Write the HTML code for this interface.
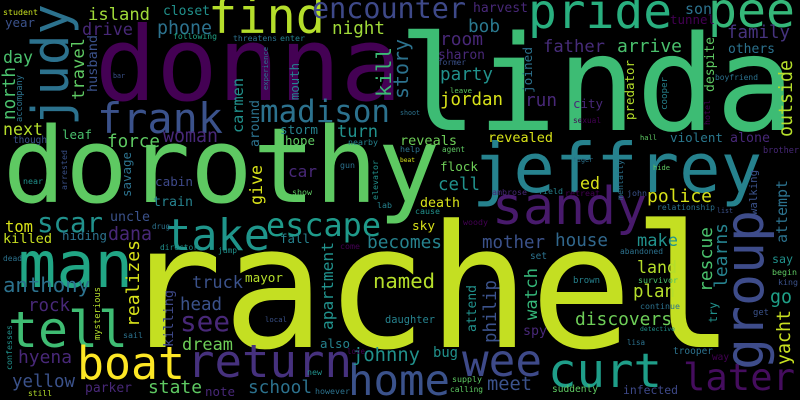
<!DOCTYPE html>
<html><head><meta charset="utf-8">
<style>
html,body{margin:0;padding:0;background:#000;width:800px;height:400px;overflow:hidden}
svg{display:block}
text{font-family:"DejaVu Sans Mono","Liberation Mono",monospace}
</style></head>
<body>
<svg id="cloud" width="800" height="400" viewBox="0 0 800 400" xmlns="http://www.w3.org/2000/svg">
<rect x="0" y="0" width="800" height="400" fill="#000"/>
</svg>
<script>
// word, x, baseline y (or bottom for vertical), ink length, color, vertical flag
const words = [
["rachel",120,347,615,"#c4df22",0],
["donna",95,100,307,"#440154",0],
["linda",398,130,397,"#3dbc74",0],
["dorothy",3,202,437,"#5ec962",0],
["jeffrey",472,192,290,"#26828e",0],
["man",18,287,115,"#21a685",0],
["tell",8,347,120,"#3fbc73",0],
["take",165,250,105,"#1f958b",0],
["escape",266,236,115,"#1f9a8a",0],
["scar",37,232,66,"#21918c",0],
["frank",97,133,126,"#3b528b",0],
["find",208,33,117,"#b5de2b",0],
["judy",68,126,122,"#2c728e",1],
["encounter",312,18,154,"#3e4989",0],
["pride",528,28,144,"#29af7f",0],
["pee",708,27,87,"#35b779",0],
["sandy",492,224,155,"#481a6c",0],
["boat",77,379,108,"#fde725",0],
["return",187,377,165,"#46317e",0],
["home",348,395,102,"#3b528b",0],
["wee",462,376,80,"#3e4a89",0],
["curt",548,387,114,"#1f9e89",0],
["later",683,390,112,"#450d5e",0],
["group",763,370,160,"#3e4c8a",1],
["madison",260,122,130,"#2c728e",0],
["story",408,99,60,"#2c728e",1],
["island",88,20,62,"#a0da39",0],
["closet",163,15,47,"#21918c",0],
["student",3,15,35,"#c8e020",0],
["year",5,27,30,"#3b528b",0],
["drive",82,35,51,"#482878",0],
["phone",157,34,55,"#2c728e",0],
["night",332,34,53,"#a0da39",0],
["following",173,39,44,"#20a486",0],
["threatens",233,41,44,"#2c728e",0],
["enter",280,41,25,"#26828e",0],
["husband",97,92,57,"#3b528b",1],
["travel",84,100,62,"#5ec962",1],
["day",3,63,30,"#4ac16d",0],
["north",15,120,53,"#4ac16d",1],
["accompany",22,122,47,"#2c728e",1],
["next",3,135,40,"#b5de2b",0],
["though",13,143,34,"#3b528b",0],
["leaf",62,139,30,"#4ac16d",0],
["force",107,147,53,"#5ec962",0],
["woman",163,142,55,"#482878",0],
["carmen",243,133,55,"#21918c",1],
["around",259,147,47,"#2c728e",1],
["mouth",299,100,37,"#26828e",1],
["experience",268,90,43,"#2c728e",1],
["bar",113,78,12,"#3b528b",0],
["storm",280,134,38,"#26828e",0],
["turn",337,137,41,"#21918c",0],
["hope",285,145,30,"#5ec962",0],
["kill",391,97,50,"#3bbb75",1],
["savage",131,197,45,"#2c728e",1],
["arrested",67,190,40,"#3b528b",1],
["near",23,184,20,"#21918c",0],
["cabin",155,186,38,"#3e4989",0],
["car",288,177,29,"#482878",0],
["give",262,205,40,"#d8e219",1],
["nearby",348,145,30,"#26828e",0],
["gun",340,168,15,"#2c728e",0],
["elevator",378,200,40,"#21918c",1],
["show",292,195,20,"#5ec962",0],
["harvest",473,12,55,"#482878",0],
["son",685,14,27,"#2c728e",0],
["tunnel",670,24,45,"#440154",0],
["bob",468,32,32,"#2a788e",0],
["family",727,38,63,"#46337e",0],
["room",440,45,43,"#482878",0],
["father",543,52,62,"#472c7a",0],
["arrive",617,52,65,"#4ac16d",0],
["others",728,53,47,"#2c728e",0],
["sharon",438,59,47,"#482878",0],
["former",438,65,28,"#3b528b",0],
["joined",532,93,46,"#2c728e",1],
["despite",714,92,55,"#5ec962",1],
["outside",792,137,77,"#b5de2b",1],
["party",440,80,53,"#21918c",0],
["predator",634,120,60,"#b5de2b",1],
["boyfriend",715,80,43,"#2c728e",0],
["leave",450,93,22,"#5ec962",0],
["cooper",667,110,33,"#26828e",1],
["jordan",440,105,63,"#d8e219",0],
["run",525,106,32,"#482878",0],
["city",573,108,30,"#482878",0],
["shoot",400,115,20,"#2c728e",0],
["sexual",573,123,28,"#440154",0],
["hotel",710,125,25,"#440154",1],
["reveals",400,145,57,"#6ece58",0],
["revealed",488,142,65,"#d8e219",0],
["violent",670,142,53,"#2a788e",0],
["alone",730,142,40,"#482878",0],
["hall",640,140,17,"#5ec962",0],
["help",400,152,20,"#2c728e",0],
["agent",442,152,23,"#5ec962",0],
["beat",400,162,15,"#d8e219",0],
["tiger",573,162,20,"#2c728e",0],
["hide",653,170,17,"#5ec962",0],
["brother",763,153,36,"#482878",0],
["flock",440,171,38,"#6ece58",0],
["mentally",623,200,40,"#2c728e",1],
["cell",438,190,42,"#21918c",0],
["ed",580,189,20,"#d8e219",0],
["walking",757,215,45,"#3b528b",1],
["attempt",787,243,63,"#2c728e",1],
["ambrose",492,195,35,"#482878",0],
["field",538,194,25,"#26828e",0],
["retreat",565,196,35,"#440154",0],
["john",627,196,20,"#3b528b",0],
["police",647,202,65,"#d8e219",0],
["death",420,207,40,"#d8e219",0],
["relationship",657,210,58,"#2c728e",0],
["list",717,213,16,"#3b528b",0],
["cause",415,214,25,"#21918c",0],
["woody",463,225,25,"#440154",0],
["sky",412,230,23,"#d8e219",0],
["becomes",367,248,75,"#26828e",0],
["mother",482,248,63,"#3b528b",0],
["house",555,246,53,"#31688e",0],
["make",637,246,41,"#21918c",0],
["rescue",712,292,65,"#4ac16d",1],
["learns",727,288,65,"#26828e",1],
["abandoned",620,254,43,"#2c728e",0],
["set",530,259,17,"#2c728e",0],
["land",637,273,40,"#b5de2b",0],
["say",772,263,21,"#21918c",0],
["begin",772,275,25,"#5ec962",0],
["king",778,285,20,"#3b528b",0],
["named",373,288,62,"#b5de2b",0],
["brown",573,283,27,"#26828e",0],
["survivor",638,283,40,"#4ac16d",0],
["plan",633,297,42,"#b5de2b",0],
["go",770,303,22,"#1fa088",0],
["watch",537,320,52,"#35b779",1],
["philip",496,343,63,"#3b528b",1],
["attend",476,332,47,"#21918c",1],
["daughter",385,323,50,"#26828e",0],
["discovers",575,325,97,"#6ece58",0],
["try",717,323,21,"#21918c",1],
["yacht",790,365,55,"#c8e020",1],
["continue",640,309,40,"#2c728e",0],
["get",753,315,16,"#3b528b",0],
["spy",523,335,24,"#482878",0],
["detective",640,331,35,"#21918c",0],
["lisa",627,345,18,"#2c728e",0],
["bug",433,357,25,"#21918c",0],
["trooper",673,354,40,"#2c728e",0],
["way",712,360,17,"#440154",0],
["meet",487,390,45,"#3b528b",0],
["supply",452,382,30,"#5ec962",0],
["calling",450,392,33,"#5ec962",0],
["suddenly",552,392,46,"#5ec962",0],
["infected",623,394,55,"#3e4989",0],
["johnny",352,361,68,"#21918c",0],
["tom",5,232,28,"#d8e219",0],
["killed",3,243,49,"#c8e020",0],
["uncle",110,221,40,"#3b528b",0],
["hiding",62,240,45,"#2c728e",0],
["dana",108,240,44,"#482878",0],
["train",153,206,40,"#26828e",0],
["drug",152,229,18,"#2c728e",0],
["lab",377,208,15,"#26828e",0],
["anthony",3,292,87,"#2c728e",0],
["rock",28,311,42,"#482878",0],
["realizes",139,327,87,"#d8e219",1],
["truck",192,288,51,"#3b528b",0],
["mayor",245,282,38,"#b5de2b",0],
["head",180,310,42,"#3b528b",0],
["see",180,331,50,"#482878",0],
["dream",182,350,51,"#6ece58",0],
["killing",173,347,57,"#3e4989",1],
["apartment",333,330,88,"#21918c",1],
["fall",280,243,30,"#26828e",0],
["also",320,348,30,"#26828e",0],
["hyena",18,363,54,"#482878",0],
["yellow",12,387,63,"#3b528b",0],
["parker",85,392,47,"#482878",0],
["still",28,396,24,"#b5de2b",0],
["confesses",12,370,45,"#21918c",1],
["state",148,393,54,"#5ec962",0],
["note",205,396,30,"#482878",0],
["school",248,393,64,"#2c728e",0],
["mysterious",100,340,53,"#b5de2b",1],
["director",160,250,38,"#21918c",0],
["jump",218,253,19,"#21918c",0],
["dead",3,261,19,"#2c728e",0],
["local",265,322,22,"#3b528b",0],
["sail",123,338,20,"#2c728e",0],
["love",347,354,18,"#440154",0],
["new",307,375,15,"#21918c",0],
["however",315,394,35,"#2c728e",0],
["come",340,249,20,"#440154",0]
];
const svg = document.getElementById('cloud');
const NS = 'http://www.w3.org/2000/svg';
for (const w of words) {
  const t = document.createElementNS(NS, 'text');
  const size = w[3] / (0.6 * w[0].length);
  t.setAttribute('x', w[1]);
  t.setAttribute('y', w[2]);
  t.setAttribute('font-size', size.toFixed(1));
  t.setAttribute('fill', w[4]);
  t.setAttribute('textLength', w[3]);
  t.setAttribute('lengthAdjust', 'spacingAndGlyphs');
  if (w[5]) t.setAttribute('transform', 'rotate(-90 ' + w[1] + ' ' + w[2] + ')');
  
  
  t.textContent = w[0];
  svg.appendChild(t);
}
</script>
</body></html>
